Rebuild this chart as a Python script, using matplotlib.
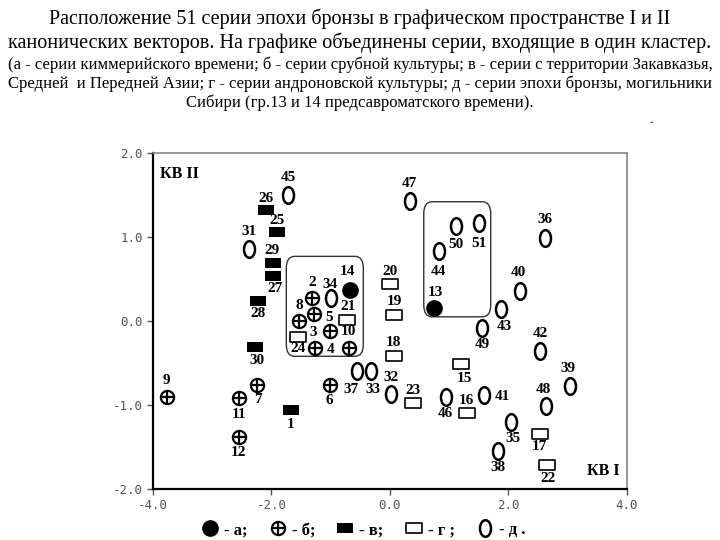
import matplotlib
matplotlib.use("Agg")
import matplotlib.pyplot as plt
from matplotlib.path import Path
from matplotlib.patches import FancyBboxPatch
from matplotlib.lines import Line2D
from matplotlib.transforms import Affine2D

# group а - filled circles
a_ids = [13, 14]
a_x = [0.75, -0.68]
a_y = [0.15, 0.37]
# group б - crossed circles
b_ids = [2, 3, 4, 5, 6, 7, 8, 9, 10, 11, 12]
b_x = [-1.32, -1.02, -1.27, -1.28, -1.02, -2.25, -1.53, -3.77, -0.70, -2.55, -2.55]
b_y = [0.27, -0.12, -0.32, 0.08, -0.76, -0.76, 0.0, -0.90, -0.32, -0.92, -1.38]
# group в - filled rectangles
v_ids = [1, 25, 26, 27, 28, 29, 30]
v_x = [-1.67, -1.90, -2.10, -1.98, -2.22, -1.98, -2.27]
v_y = [-1.06, 1.06, 1.32, 0.54, 0.24, 0.69, -0.31]
# group г - open rectangles
g_ids = [15, 16, 17, 18, 19, 20, 21, 22, 23, 24]
g_x = [1.20, 1.30, 2.53, 0.07, 0.07, 0.0, -0.72, 2.65, 0.38, -1.55]
g_y = [-0.51, -1.10, -1.34, -0.42, 0.07, 0.44, 0.01, -1.71, -0.98, -0.19]
# group д - open ellipses
d_ids = [31, 32, 33, 34, 35, 36, 37, 38, 39, 40, 41, 42, 43, 44, 45, 46, 47, 48, 49, 50, 51]
d_x = [-2.38, 0.02, -0.32, -1.00, 2.05, 2.62, -0.55, 1.82, 3.03, 2.20, 1.58,
       2.53, 1.87, 0.82, -1.72, 0.95, 0.33, 2.63, 1.55, 1.12, 1.50]
d_y = [0.86, -0.87, -0.60, 0.27, -1.20, 0.99, -0.60, -1.55, -0.77, 0.36, -0.88,
       -0.36, 0.14, 0.83, 1.50, -0.90, 1.43, -1.01, -0.08, 1.13, 1.17]

# cluster boxes (x0, x1, y0, y1)
clusters = [(-1.75, -0.45, -0.42, 0.77), (0.57, 1.70, 0.05, 1.42)]

# label offsets in pixels (default: above)
label_off = {
    2: (0, 16), 8: (0, 16), 5: (15, -3), 3: (-16, -1), 4: (16, -2), 10: (0, 16),
    6: (0, -16), 7: (1, -15), 9: (0, 16), 11: (0, -16), 12: (0, -16),
    14: (-2, 18), 13: (1, 16),
    26: (0, 12), 25: (0, 11), 29: (-1, 13), 27: (2, -13), 28: (0, -13), 30: (2, -13), 1: (0, -14),
    24: (0, -12), 21: (1, 14), 20: (0, 13), 19: (0, 14), 18: (-1, 14), 23: (0, 13),
    15: (3, -15), 16: (-1, 13), 17: (0, -13), 22: (1, -14),
    45: (0, 18), 31: (0, 17), 47: (0, 17), 50: (0, -18), 51: (0, -21), 44: (0, -20),
    34: (-1, 14), 36: (0, 18), 40: (-2, 18), 43: (4, -17), 49: (0, -17), 37: (-6, -18),
    33: (2, -18), 32: (0, 17), 46: (-1, -17), 41: (19, -2), 35: (2, -17), 38: (0, -16),
    42: (0, 18), 39: (-2, 17), 48: (-2, 16),
}

serif = "Liberation Serif"
rect_marker = Path([(-0.5, -0.31), (0.5, -0.31), (0.5, 0.31), (-0.5, 0.31), (-0.5, -0.31)],
                   [Path.MOVETO, Path.LINETO, Path.LINETO, Path.LINETO, Path.CLOSEPOLY])
ell_marker = Path.unit_circle().transformed(Affine2D().scale(0.66, 1.0))

fig = plt.figure(figsize=(7.2, 5.4), dpi=100)
ax = fig.add_axes([0.2125, 0.0944, 0.6583, 0.6222])

ax.plot(a_x, a_y, ls="none", marker="o", ms=11, mfc="black", mec="black")
ax.plot(b_x, b_y, ls="none", marker="o", ms=9.5, mfc="white", mec="black", mew=1.6)
ax.plot(b_x, b_y, ls="none", marker="+", ms=9.5, mec="black", mew=1.6)
ax.plot(v_x, v_y, ls="none", marker=rect_marker, ms=12, mfc="black", mec="black", mew=0)
ax.plot(g_x, g_y, ls="none", marker=rect_marker, ms=11, mfc="white", mec="black", mew=1.2)
ax.plot(d_x, d_y, ls="none", marker=ell_marker, ms=12, mfc="none", mec="black", mew=1.8)

for ids, xs, ys in [(a_ids, a_x, a_y), (b_ids, b_x, b_y), (v_ids, v_x, v_y),
                    (g_ids, g_x, g_y), (d_ids, d_x, d_y)]:
    for n, x, y in zip(ids, xs, ys):
        ax.annotate(str(n), (x, y), xytext=label_off.get(n, (0, 15)), textcoords="offset pixels",
                    ha="center", va="center", fontsize=11, fontweight="bold", family=serif)

for x0, x1, y0, y1 in clusters:
    ax.add_patch(FancyBboxPatch((x0, y0), x1 - x0, y1 - y0,
                                boxstyle="round,pad=0,rounding_size=0.14",
                                fc="none", ec="#333333", lw=1.0))

ax.set_xlim(-4, 4)
ax.set_ylim(-2, 2)
ax.set_xticks([-4, -2, 0, 2, 4])
ax.set_yticks([-2, -1, 0, 1, 2])
ax.set_xticklabels(["-4.0", "-2.0", "0.0", "2.0", "4.0"])
ax.set_yticklabels(["-2.0", "-1.0", "0.0", "1.0", "2.0"])
ax.tick_params(labelsize=9, colors="#555555", length=4, width=1)
for lab in ax.get_xticklabels() + ax.get_yticklabels():
    lab.set_family("DejaVu Sans Mono")
ax.spines["left"].set_linewidth(1.6)
ax.spines["bottom"].set_linewidth(1.6)
ax.spines["top"].set_color("#888888")
ax.spines["right"].set_color("#888888")
ax.spines["top"].set_linewidth(1.2)
ax.spines["right"].set_linewidth(1.2)

ax.text(0.015, 0.96, "КВ II", transform=ax.transAxes, ha="left", va="top",
        fontsize=11.5, fontweight="bold", family=serif)
ax.text(0.985, 0.03, "КВ I", transform=ax.transAxes, ha="right", va="bottom",
        fontsize=11.5, fontweight="bold", family=serif)

fig.text(0.5, 0.966, "Расположение 51 серии эпохи бронзы в графическом пространстве I и II",
         ha="center", va="center", fontsize=14.5, family=serif)
fig.text(0.5, 0.920, "канонических векторов. На графике объединены серии, входящие в один кластер.",
         ha="center", va="center", fontsize=14.5, family=serif)
small = ["(а - серии киммерийского времени; б - серии срубной культуры; в - серии с территории Закавказья,",
         "Средней  и Передней Азии; г - серии андроновской культуры; д - серии эпохи бронзы, могильники",
         "Сибири (гр.13 и 14 предсавроматского времени)."]
for i, line in enumerate(small):
    fig.text(0.5, 0.880 - i * 0.0355, line, ha="center", va="center", fontsize=12, family=serif)
fig.text(0.904, 0.773, "-", ha="center", va="center", fontsize=7, family=serif)

handles = [
    Line2D([], [], ls="none", marker="o", ms=11, mfc="black", mec="black"),
    (Line2D([], [], ls="none", marker="o", ms=9.5, mfc="white", mec="black", mew=1.6),
     Line2D([], [], ls="none", marker="+", ms=9.5, mec="black", mew=1.6)),
    Line2D([], [], ls="none", marker=rect_marker, ms=12, mfc="black", mec="black", mew=0),
    Line2D([], [], ls="none", marker=rect_marker, ms=11, mfc="white", mec="black", mew=1.2),
    Line2D([], [], ls="none", marker=ell_marker, ms=12, mfc="none", mec="black", mew=1.8),
]
texts = ["- а;", "- б;", "- в;", "- г ;", "- д ."]
fig.legend(handles, texts, loc="center", bbox_to_anchor=(0.505, 0.018), ncol=5, frameon=False,
           handlelength=1.0, handletextpad=0.35, columnspacing=1.3,
           prop={"family": serif, "weight": "bold", "size": 12})

fig.savefig("out.png", dpi=100)
